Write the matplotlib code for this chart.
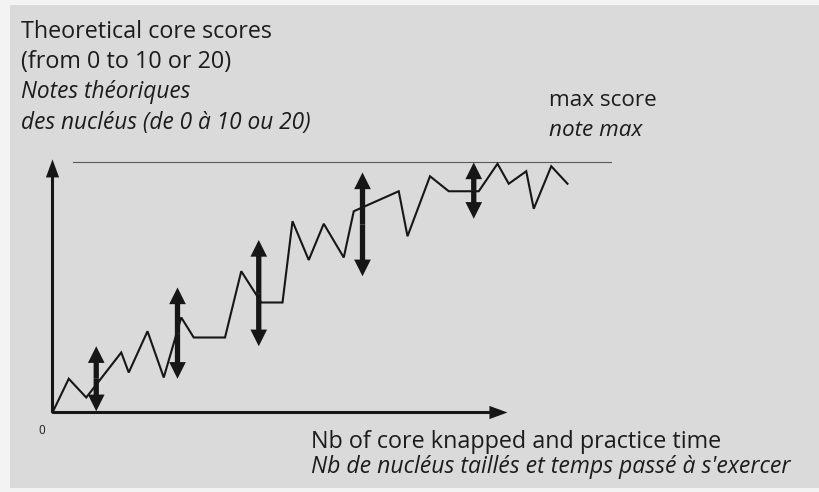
import matplotlib
matplotlib.use("Agg")
import matplotlib.pyplot as plt
from matplotlib.patches import FancyArrowPatch, Rectangle

# ---- data (practice units, score units) ----
practice = [0, 1.3, 2.7, 5.5, 6.1, 7.6, 8.9, 10.3, 11.3, 13.8, 15.1, 16.7, 18.4,
            19.2, 20.5, 21.7, 23.3, 24.1, 27.7, 28.4, 30.2, 31.7, 34.1, 35.6,
            36.5, 37.9, 38.5, 39.9, 41.2]
score = [0, 2.7, 1.2, 4.8, 3.2, 6.5, 2.8, 7.6, 6.0, 6.0, 11.3, 8.8, 8.8,
         15.3, 12.2, 15.1, 12.4, 16.1, 17.7, 14.1, 18.9, 17.7, 17.7, 19.9,
         18.3, 19.3, 16.3, 19.7, 18.3]

range_x = [3.5, 10.0, 16.5, 24.8, 33.7]
range_lo = [0.1, 2.7, 5.3, 10.9, 15.5]
range_hi = [5.3, 10.0, 13.8, 19.2, 20.0]

max_score = 20
max_line_start, max_line_end = 1.6, 44.7
x_axis_end, y_axis_end = 36.4, 20.25

W, H = 820, 492
fig = plt.figure(figsize=(W / 100, H / 100), dpi=100)
fig.patch.set_facecolor("#f3f3f3")
fig.patches.append(Rectangle((10 / W, 1 - 488 / H), (W - 10) / W, (488 - 5) / H,
                             transform=fig.transFigure, facecolor="#dadada",
                             edgecolor="none", zorder=-10))

ax = fig.add_axes([52.5 / W, 1 - 412.5 / H, 562.5 / W, 262.5 / H])
ax.set_xlim(0, 45)
ax.set_ylim(0, 21)
ax.axis("off")
ax.set_zorder(5)

ink = "#161616"

# axes arrows
for p0, p1 in [((0, 0), (x_axis_end, 0)), ((0, 0), (0, y_axis_end))]:
    ax.add_patch(FancyArrowPatch(p0, p1, arrowstyle="simple,head_length=1.3,head_width=0.95,tail_width=0.22",
                                 mutation_scale=10, color=ink, lw=0, shrinkA=0, shrinkB=0,
                                 clip_on=False, zorder=3))

# max score line
ax.plot([max_line_start, max_line_end], [max_score, max_score], color="#5a5a5a",
        lw=0.8, clip_on=False, zorder=2)

# score line
ax.plot(practice, score, color=ink, lw=1.5, clip_on=False, zorder=4,
        solid_joinstyle="miter")

# variability double arrows
for x, lo, hi in zip(range_x, range_lo, range_hi):
    mid = (lo + hi) / 2
    for end in (lo, hi):
        ax.add_patch(FancyArrowPatch((x, mid), (x, end),
                                     arrowstyle="simple,head_length=1.2,head_width=1.2,tail_width=0.38",
                                     mutation_scale=10, color=ink, lw=0, shrinkA=0, shrinkB=0,
                                     clip_on=False, zorder=5))

font = "Open Sans"
tc = "#1c1c1c"

def ftext(x, y, s, size, style="normal", **kw):
    fig.text(x / W, 1 - y / H, s, fontsize=size, style=style, family=font,
             color=tc, va="baseline", ha="left", zorder=6, **kw)

ftext(21, 38, "Theoretical core scores", 16.8)
ftext(21, 68.5, "(from 0 to 10 or 20)", 16.8)
ftext(21, 98.5, "Notes théoriques", 16.3, "italic")
ftext(21, 129, "des nucléus (de 0 à 10 ou 20)", 16.3, "italic")

ftext(549, 106.5, "max score", 16.2)
ftext(549, 136.5, "note max", 16.2, "italic")

ftext(311, 448, "Nb of core knapped and practice time", 16.8)
ftext(311, 473, "Nb de nucléus taillés et temps passé à s'exercer", 16.6, "italic")

ftext(38, 434, "0", 8.5)

fig.savefig("out.png", dpi=100, facecolor=fig.get_facecolor())
